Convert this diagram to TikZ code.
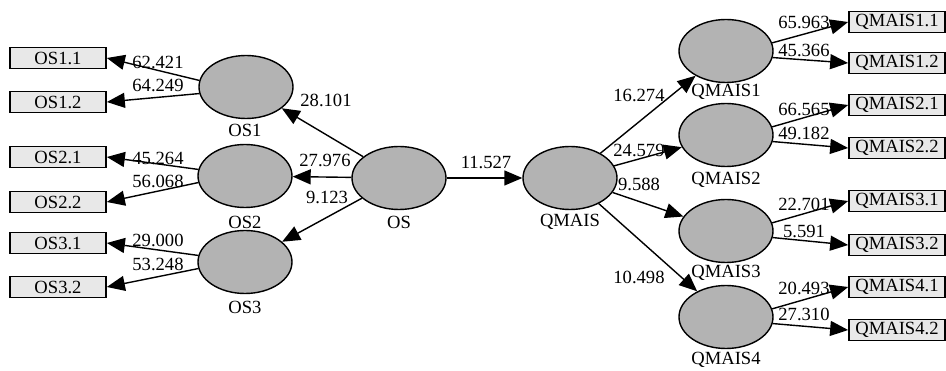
\documentclass[tikz,border=0pt]{standalone}
\usepackage{fontspec}
\setmainfont{Liberation Serif}
\usetikzlibrary{shapes.geometric,arrows.meta}
\definecolor{boxfill}{HTML}{E8E8E8}
\definecolor{ellfill}{HTML}{B3B3B3}
\tikzset{
  ind/.style={draw=black,line width=1.7pt,fill=boxfill,minimum width=96pt,minimum height=21pt,inner sep=0pt,font=\fontsize{18.6}{18.6}\selectfont},
  lat/.style={ellipse,draw=black,line width=1.4pt,fill=ellfill,minimum width=94pt,minimum height=63pt,inner sep=0pt},
  lab/.style={inner sep=0pt,font=\fontsize{18.6}{18.6}\selectfont},
  arr/.style={line width=1.4pt,-{Triangle[length=18pt,width=15pt]}}
}
\begin{document}
\begin{tikzpicture}[x=1pt,y=-1pt]
\useasboundingbox (0,0) rectangle (946,371);
% latent variables
\node[lat] (OS1) at (246,87) {};
\node[lat] (OS2) at (245,176) {};
\node[lat] (OS3) at (245,262) {};
\node[lat] (OS) at (399,178) {};
\node[lat] (QMAIS) at (570,178) {};
\node[lat] (QMAIS1) at (726,51) {};
\node[lat] (QMAIS2) at (726,135) {};
\node[lat] (QMAIS3) at (726,231) {};
\node[lat] (QMAIS4) at (726,317) {};
% latent labels
\node[lab] (lOS1) at (245,130) {OS1};
\node[lab] (lOS2) at (245,222) {OS2};
\node[lab] (lOS3) at (245,307) {OS3};
\node[lab] (lOS) at (399,222) {OS};
\node[lab] (lQMAIS) at (570,222) {QMAIS};
\node[lab] (lQMAIS1) at (726,92) {QMAIS1};
\node[lab] (lQMAIS2) at (726,180) {QMAIS2};
\node[lab] (lQMAIS3) at (726,273) {QMAIS3};
\node[lab] (lQMAIS4) at (726,360) {QMAIS4};
% indicators left
\node[ind] (OS11) at (58,58) {OS1.1};
\node[ind] (OS12) at (58,102) {OS1.2};
\node[ind] (OS21) at (58,157) {OS2.1};
\node[ind] (OS22) at (58,202) {OS2.2};
\node[ind] (OS31) at (58,243) {OS3.1};
\node[ind] (OS32) at (58,287) {OS3.2};
% indicators right
\node[ind] (Q11) at (897,22) {QMAIS1.1};
\node[ind] (Q12) at (897,63) {QMAIS1.2};
\node[ind] (Q21) at (897,105) {QMAIS2.1};
\node[ind] (Q22) at (897,148) {QMAIS2.2};
\node[ind] (Q31) at (897,201) {QMAIS3.1};
\node[ind] (Q32) at (897,245) {QMAIS3.2};
\node[ind] (Q41) at (897,287) {QMAIS4.1};
\node[ind] (Q42) at (897,330) {QMAIS4.2};
% structural paths
\draw[arr] (OS) -- (OS1);
\draw[arr] (OS) -- (OS2);
\draw[arr] (OS) -- (OS3);
\draw[arr] (OS) -- (QMAIS);
\draw[arr] (QMAIS) -- (QMAIS1);
\draw[arr] (QMAIS) -- (QMAIS2);
\draw[arr] (QMAIS) -- (QMAIS3);
\draw[arr] (QMAIS) -- (QMAIS4);
% loadings left
\draw[arr] (OS1.172) -- (OS11.east);
\draw[arr] (OS1.188) -- (OS12.east);
\draw[arr] (OS2.172) -- (OS21.east);
\draw[arr] (OS2.188) -- (OS22.east);
\draw[arr] (OS3.172) -- (OS31.east);
\draw[arr] (OS3.188) -- (OS32.east);
% loadings right
\draw[arr] (QMAIS1.10) -- (Q11.west);
\draw[arr] (QMAIS1.352) -- (Q12.west);
\draw[arr] (QMAIS2.10) -- (Q21.west);
\draw[arr] (QMAIS2.352) -- (Q22.west);
\draw[arr] (QMAIS3.10) -- (Q31.west);
\draw[arr] (QMAIS3.352) -- (Q32.west);
\draw[arr] (QMAIS4.10) -- (Q41.west);
\draw[arr] (QMAIS4.352) -- (Q42.west);
% path coefficients
\node[lab] (c1) at (326,100) {28.101};
\node[lab] (c2) at (325,160) {27.976};
\node[lab] (c3) at (327,197) {9.123};
\node[lab] (c4) at (486,162) {11.527};
\node[lab] (c5) at (639,95) {16.274};
\node[lab] (c6) at (639,150) {24.579};
\node[lab] (c7) at (639,184) {9.588};
\node[lab] (c8) at (639,277) {10.498};
% loading values left
\node[lab] (l1) at (158,62) {62.421};
\node[lab] (l2) at (158,85) {64.249};
\node[lab] (l3) at (158,158) {45.264};
\node[lab] (l4) at (158,181) {56.068};
\node[lab] (l5) at (158,240) {29.000};
\node[lab] (l6) at (158,264) {53.248};
% loading values right
\node[lab] (r1) at (804,22) {65.963};
\node[lab] (r2) at (804,50) {45.366};
\node[lab] (r3) at (804,109) {66.565};
\node[lab] (r4) at (804,133) {49.182};
\node[lab] (r5) at (804,204) {22.701};
\node[lab] (r6) at (804,231) {5.591};
\node[lab] (r7) at (804,288) {20.493};
\node[lab] (r8) at (804,314) {27.310};
\end{tikzpicture}
\end{document}
